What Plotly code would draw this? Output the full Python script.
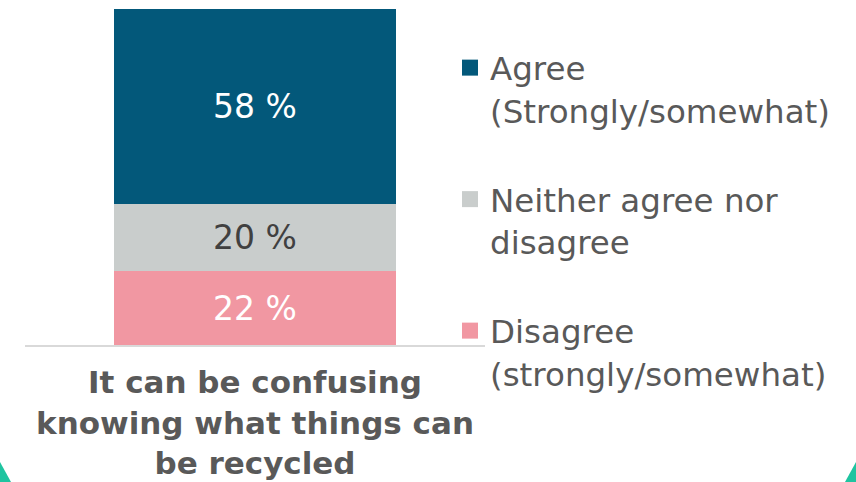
import plotly.graph_objects as go

# Survey statement and response shares (percent)
categories = ["<b>It can be confusing<br>knowing what things can<br>be recycled</b>"]
series_names = ["Disagree<br>(strongly/somewhat)", "Neither agree nor<br>disagree", "Agree<br>(Strongly/somewhat)"]
series_values = [[22], [20], [58]]
series_colors = ["#F197A2", "#C9CDCC", "#03587A"]
label_colors = ["#FFFFFF", "#404040", "#FFFFFF"]

W, H = 856, 482
ML, MR, MT, MB = 25, 371, 9, 137
FONT = "DejaVu Sans"
GREY = "#595959"

fig = go.Figure()
for i, (name, vals, col, lc) in enumerate(zip(series_names, series_values, series_colors, label_colors)):
    fig.add_trace(go.Bar(
        x=categories, y=vals, name=name,
        marker=dict(color=col, line=dict(width=0)),
        text=[f"{v} %" for v in vals], textposition="inside",
        insidetextanchor="middle", textangle=0,
        textfont=dict(family=FONT, size=33, color=lc),
        width=0.615, showlegend=False,
        hoverinfo="skip",
    ))

# legend entries with square swatches, listed top-down
for i in reversed(range(len(series_names))):
    fig.add_trace(go.Scatter(
        x=[None], y=[None], mode="markers", name=series_names[i],
        marker=dict(symbol="square", size=18, color=series_colors[i]),
        legendgroup=f"g{i}", showlegend=True, hoverinfo="skip",
    ))

# teal corner accents
def px(x, y):
    return (x - ML) / (W - ML - MR), (H - MB - y) / (H - MT - MB)

def tri(points):
    pts = [px(x, y) for x, y in points]
    return "M " + " L ".join(f"{a},{b}" for a, b in pts) + " Z"

for pts in ([(0, 462), (11, 482), (0, 482)], [(856, 462), (845, 482), (856, 482)]):
    fig.add_shape(type="path", xref="paper", yref="paper", path=tri(pts),
                  fillcolor="#1FC4A0", line=dict(width=0), layer="above")

fig.update_layout(
    width=W, height=H,
    margin=dict(l=ML, r=MR, t=MT, b=MB, pad=0, autoexpand=False),
    barmode="stack",
    paper_bgcolor="white", plot_bgcolor="white",
    font=dict(family=FONT, color=GREY),
    showlegend=True,
    legend=dict(
        x=(450 - ML) / (W - ML - MR), xanchor="left",
        y=1 - 31 / (H - MT - MB), yanchor="top",
        font=dict(family=FONT, size=32.5, color=GREY),
        traceorder="grouped", tracegroupgap=44,
        valign="top", bgcolor="rgba(0,0,0,0)",
        maxheight=470,
    ),
    xaxis=dict(
        showline=True, linecolor="#D9D9D9", linewidth=2,
        showgrid=False, ticks="", fixedrange=True, automargin=False,
        tickfont=dict(family=FONT, size=31, color=GREY),
        ticklabelstandoff=9,
    ),
    yaxis=dict(range=[0, 100], visible=False, showgrid=False, fixedrange=True,
               automargin=False),
)

fig.write_html("out.html")
